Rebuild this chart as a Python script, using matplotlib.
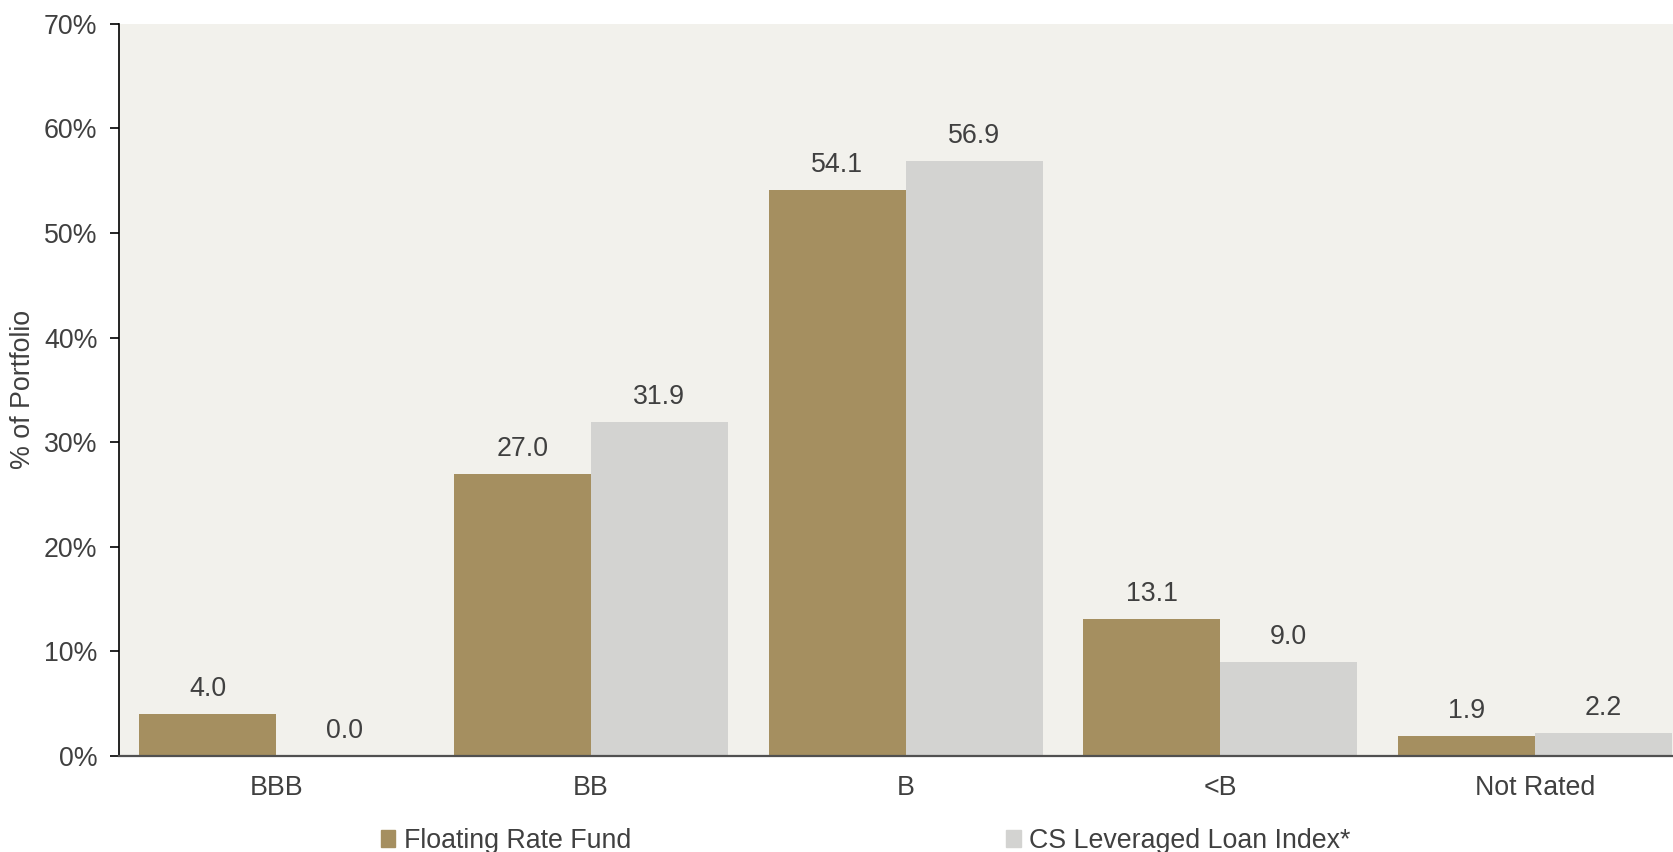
import matplotlib
matplotlib.use('Agg')
import matplotlib.pyplot as plt
from matplotlib.patches import Patch
import numpy as np

plt.rcParams['font.family'] = ['Liberation Sans', 'DejaVu Sans']

categories = ['BBB', 'BB', 'B', '<B', 'Not Rated']
fund = [4.0, 27.0, 54.1, 13.1, 1.9]
index = [0.0, 31.9, 56.9, 9.0, 2.2]
series_names = ['Floating Rate Fund', 'CS Leveraged Loan Index*']

fund_color = '#A58F60'
index_color = '#D3D3D1'
text_color = '#404040'
fs = 19.3

fig = plt.figure(figsize=(16.74, 8.52), dpi=100)
# the plot area runs a little past the right edge of the figure, as in the original
ax = fig.add_axes([0.0711, 0.1127, 0.9398, 0.8595])
ax.set_facecolor('#F2F1EC')

x = np.arange(len(categories))
w = 0.435
b1 = ax.bar(x - w / 2, fund, width=w, color=fund_color)
b2 = ax.bar(x + w / 2, index, width=w, color=index_color)

for bars, vals in ((b1, fund), (b2, index)):
    for bar, v in zip(bars, vals):
        ax.annotate(f'{v:.1f}', (bar.get_x() + bar.get_width() / 2, v),
                    xytext=(0, 18), textcoords='offset points',
                    ha='center', va='center', fontsize=fs, color=text_color)

ax.set_xlim(-0.5, len(categories) - 0.5)
ax.set_ylim(0, 70)
ax.set_yticks(range(0, 71, 10))
ax.set_yticklabels([f'{t}%' for t in range(0, 71, 10)])
ax.set_xticks(x)
ax.set_xticklabels(categories)
ax.tick_params(axis='y', length=6.5, width=1.2, pad=9, labelsize=fs,
               labelcolor=text_color, color='black')
ax.tick_params(axis='x', length=0, pad=14, labelsize=fs, labelcolor=text_color)
ax.set_ylabel('% of Portfolio', fontsize=fs, color=text_color, labelpad=6)

for s in ('top', 'right'):
    ax.spines[s].set_visible(False)
ax.spines['left'].set_color('black')
ax.spines['left'].set_linewidth(1.2)
ax.spines['bottom'].set_color('#505050')
ax.spines['bottom'].set_linewidth(1.6)

handles = [Patch(color=fund_color), Patch(color=index_color)]
fig.legend(handles, series_names, loc='center', bbox_to_anchor=(0.517, 0.013),
           ncol=2, frameon=False, fontsize=fs, handlelength=0.55, handleheight=0.55,
           handletextpad=0.3, columnspacing=14.0, labelcolor=text_color)

fig.savefig('out.png', dpi=100)
